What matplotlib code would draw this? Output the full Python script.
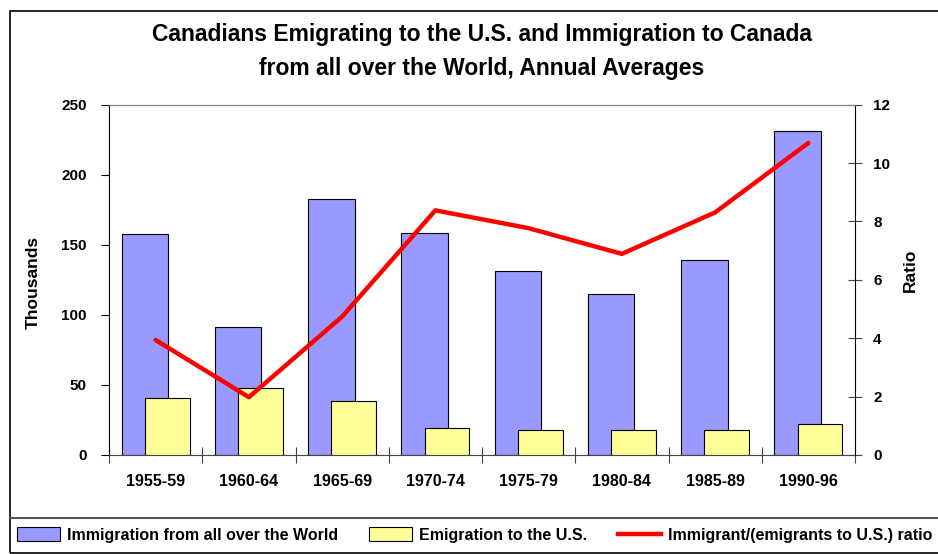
import numpy as np
import matplotlib.pyplot as plt
from matplotlib.patches import Rectangle
from matplotlib.lines import Line2D

plt.rcParams['font.family'] = ['Liberation Sans', 'DejaVu Sans']
plt.rcParams['font.weight'] = 'bold'

periods = ['1955-59', '1960-64', '1965-69', '1970-74', '1975-79', '1980-84', '1985-89', '1990-96']
immigration = [157.5, 91.5, 182.5, 158.5, 131, 115, 139, 231]
emigration_us = [41, 48, 38.5, 19, 17.5, 17.5, 17.5, 22]
ratio = [3.94, 1.98, 4.74, 8.38, 7.77, 6.89, 8.31, 10.69]

fig = plt.figure(figsize=(9.38, 5.54), dpi=100)
ax = fig.add_axes([109 / 938, 99 / 554, 746 / 938, 350.3 / 554])
ax2 = ax.twinx()

x = np.arange(len(periods))
ax.bar(x - 0.115, immigration, width=0.5, color='#9999FF', edgecolor='black', linewidth=0.8, zorder=2)
ax.bar(x + 0.125, emigration_us, width=0.48, color='#FFFF99', edgecolor='black', linewidth=0.8, zorder=3)
ax2.plot(x, ratio, color='#FF0000', linewidth=3.2, solid_capstyle='round', zorder=4)

ax.set_xlim(-0.5, len(periods) - 0.5)
ax.set_ylim(0, 250)
ax2.set_ylim(0, 12)
ax.set_yticks(np.arange(0, 251, 50))
ax2.set_yticks(np.arange(0, 13, 2))

# category labels sit between the boundary ticks
ax.set_xticks(np.arange(-0.5, len(periods), 1))
ax.set_xticklabels([])
ax.set_xticks(x, minor=True)
ax.set_xticklabels(periods, minor=True, fontsize=11.5, fontweight='bold')
ax.tick_params(axis='x', which='minor', length=0, pad=14)
ax.tick_params(axis='x', which='major', direction='inout', length=12, width=0.8, color='#444444')
ax.tick_params(axis='y', direction='out', length=6, width=0.8, labelsize=11, pad=10)
ax2.tick_params(axis='y', direction='inout', length=10, width=0.8, labelsize=11, pad=8, color='#444444')

ax.spines['top'].set_color('#808080')
ax2.spines['top'].set_color('#808080')
ax.spines['bottom'].set_color('#444444')
ax2.spines['bottom'].set_visible(False)
ax.spines['right'].set_visible(False)
ax2.spines['left'].set_visible(False)

cx = 0.5 * (109 + 855) / 938
fig.text(cx, 1 - 35 / 554, 'Canadians Emigrating to the U.S. and Immigration to Canada',
         ha='center', va='center', fontsize=16.5, fontweight='bold')
fig.text(cx, 1 - 68 / 554, 'from all over the World, Annual Averages',
         ha='center', va='center', fontsize=16.5, fontweight='bold')
fig.text(33 / 938, 1 - 282 / 554, 'Thousands', rotation=90, ha='center', va='center', fontsize=12.5, fontweight='bold')
fig.text(910 / 938, 1 - 270 / 554, 'Ratio', rotation=90, ha='center', va='center', fontsize=12.5, fontweight='bold')

# outer frame and legend box
fig.patches.append(Rectangle((10 / 938, 1.3 / 554), 1.0, 542 / 554, transform=fig.transFigure,
                             fill=False, edgecolor='black', linewidth=1.2))
fig.lines.append(Line2D([10 / 938, 1.0], [36.3 / 554, 36.3 / 554], transform=fig.transFigure,
                        color='#555555', linewidth=1.5))

handles = [Rectangle((0, 0), 1, 1, facecolor='#9999FF', edgecolor='black', linewidth=0.8),
           Rectangle((0, 0), 1, 1, facecolor='#FFFF99', edgecolor='black', linewidth=0.8),
           Line2D([0], [0], color='#FF0000', linewidth=3.2)]
labels = ['Immigration from all over the World', 'Emigration to the U.S.', 'Immigrant/(emigrants to U.S.) ratio']
fig.legend(handles, labels, loc='center left', bbox_to_anchor=(17 / 938, 19 / 554), ncol=3, frameon=False,
           fontsize=11.5, handlelength=2.7, handleheight=0.95, handletextpad=0.45, columnspacing=1.9,
           borderaxespad=0, borderpad=0)

fig.savefig('out.png', dpi=100)
